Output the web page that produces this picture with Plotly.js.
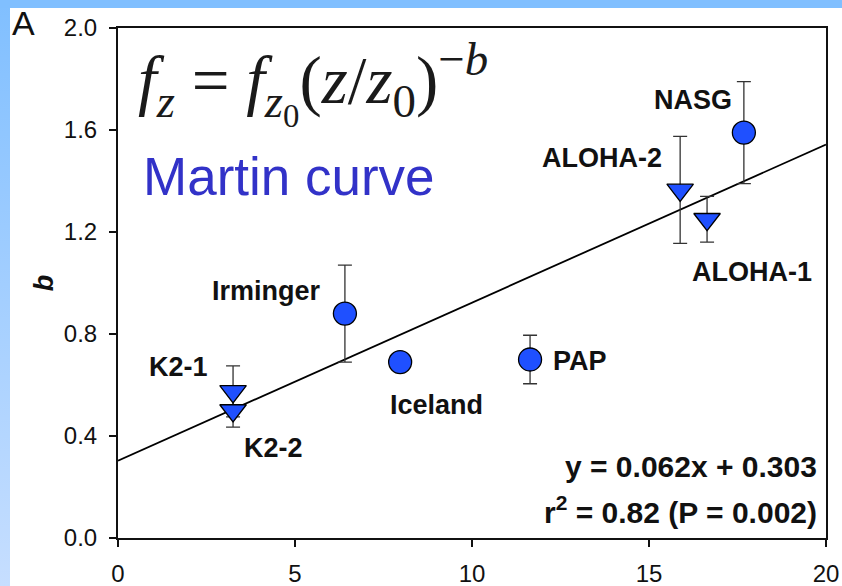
<!DOCTYPE html>
<html>
<head>
<meta charset="utf-8">
<script src="https://cdn.plot.ly/plotly-3.0.1.min.js"></script>
<style>
html,body{margin:0;padding:0;}
body{
  width:842px;height:586px;overflow:hidden;
  background:
    linear-gradient(#80bfff,#80bfff) top left/100% 8px no-repeat,
    linear-gradient(to bottom,#80bfff,#c6deff) top left/10px 100% no-repeat,
    #ffffff;
}
#chart{position:absolute;left:0;top:0;width:842px;height:586px;}
</style>
</head>
<body>
<div id="chart"></div>
<script>
// ---- data ----
const circleSites = ['NASG', 'Irminger', 'Iceland', 'PAP'];
const circleX = [17.68, 6.41, 7.97, 11.64];
const circleB = [1.59, 0.88, 0.69, 0.70];
const circleErr = [0.20, 0.19, 0, 0.095];

const triSites = ['ALOHA-2', 'ALOHA-1', 'K2-1', 'K2-2'];
const triX = [15.88, 16.64, 3.25, 3.25];
const triB = [1.365, 1.25, 0.575, 0.50];
const triErr = [0.21, 0.09, 0.10, 0.065];

const slope = 0.062;
const intercept = 0.303;
const fitRange = [0, 20];
const xTicks = [0, 5, 10, 15, 20];
const yTicks = [0.0, 0.4, 0.8, 1.2, 1.6, 2.0];
const yTitle = 'b';

// ---- styles ----
const markerBlue = '#1f50ff';
const labelOffsets = {
  'NASG': [-51, 33], 'ALOHA-2': [-78, 32], 'ALOHA-1': [45, -53],
  'Irminger': [-78, 23], 'Iceland': [36, -43], 'PAP': [50, -1],
  'K2-1': [-55, 24], 'K2-2': [40, -37]
};

const fitY = fitRange.map(x => slope * x + intercept);

const traces = [
  {
    x: fitRange, y: fitY, mode: 'lines', type: 'scatter',
    line: {color: '#000', width: 1.8}, hoverinfo: 'skip'
  },
  {
    x: circleX, y: circleB, mode: 'markers', type: 'scatter',
    marker: {symbol: 'circle', size: 23, color: markerBlue, line: {color: '#000', width: 1.3}},
    error_y: {type: 'data', array: circleErr, visible: true, color: '#333', thickness: 1.3, width: 7}
  },
  {
    x: triX, y: triB, mode: 'markers', type: 'scatter',
    marker: {symbol: 'triangle-down', size: 23, color: markerBlue, line: {color: '#000', width: 1.3}},
    error_y: {type: 'data', array: triErr, visible: true, color: '#333', thickness: 1.3, width: 7}
  }
];

const sans = 'Liberation Sans, Arial, sans-serif';
const labelFont = {family: sans, size: 27, color: '#111'};
const annotations = [];
function addLabels(sites, xs, ys) {
  sites.forEach((s, i) => {
    const off = labelOffsets[s];
    annotations.push({
      x: xs[i], y: ys[i], xref: 'x', yref: 'y', text: '<b>' + s + '</b>',
      showarrow: false, xshift: off[0], yshift: off[1],
      xanchor: 'center', yanchor: 'middle', font: labelFont
    });
  });
}
addLabels(circleSites, circleX, circleB);
addLabels(triSites, triX, triB);

annotations.push(
  {xref: 'paper', yref: 'paper', x: 0.99, y: 0.14, xanchor: 'right', yanchor: 'middle',
   text: '<b>y = ' + slope.toFixed(3) + 'x + ' + intercept.toFixed(3) + '</b>', showarrow: false,
   font: {family: sans, size: 30, color: '#111'}},
  {xref: 'paper', yref: 'paper', x: 0.99, y: 0.055, xanchor: 'right', yanchor: 'middle',
   text: '<b>r<sup>2</sup> = 0.82 (P = 0.002)</b>', showarrow: false,
   font: {family: sans, size: 30, color: '#111'}},
  {xref: 'paper', yref: 'paper', x: 0.025, y: 0.892, xanchor: 'left', yanchor: 'middle',
   text: '<i>f</i><sub><i>z</i></sub> = <i>f</i><sub><i>z</i><sub>0</sub></sub>(<i>z</i>/<i>z</i><sub>0</sub>)<sup>−<i>b</i></sup>',
   showarrow: false, font: {family: 'Liberation Serif, Times New Roman, serif', size: 67, color: '#1a1a1a'}},
  {xref: 'paper', yref: 'paper', x: 0.033, y: 0.708, xanchor: 'left', yanchor: 'middle',
   text: 'Martin curve', showarrow: false,
   font: {family: sans, size: 53, color: '#3232c8'}},
  {xref: 'paper', yref: 'paper', x: -0.152, y: 1.01, xanchor: 'left', yanchor: 'middle',
   text: 'A', showarrow: false,
   font: {family: sans, size: 34, color: '#111'}},
  {xref: 'paper', yref: 'paper', x: -0.104, y: 0.5, xanchor: 'center', yanchor: 'middle',
   text: '<b><i>' + yTitle + '</i></b>', textangle: -90, showarrow: false,
   font: {family: sans, size: 27, color: '#111'}}
);

const axisFont = {family: sans, size: 24, color: '#111'};
const layout = {
  width: 842, height: 586,
  margin: {l: 118, r: 16, t: 28, b: 48},
  paper_bgcolor: 'rgba(0,0,0,0)', plot_bgcolor: '#fff',
  showlegend: false,
  xaxis: {
    range: [0, 20], tickvals: xTicks, ticks: 'outside', ticklen: 7, tickwidth: 2, tickcolor: '#111',
    showline: true, linecolor: '#111', linewidth: 2, mirror: true, showgrid: false, zeroline: false,
    tickfont: axisFont, ticklabelstandoff: 6
  },
  yaxis: {
    range: [0, 2], tickvals: yTicks, tickformat: '.1f', ticks: 'outside', ticklen: 7, tickwidth: 2, tickcolor: '#111',
    showline: true, linecolor: '#111', linewidth: 2, mirror: true, showgrid: false, zeroline: false,
    tickfont: axisFont, ticklabelstandoff: 7
  },
  annotations: annotations
};

Plotly.newPlot('chart', traces, layout, {displayModeBar: false, staticPlot: true});
</script>
</body>
</html>
